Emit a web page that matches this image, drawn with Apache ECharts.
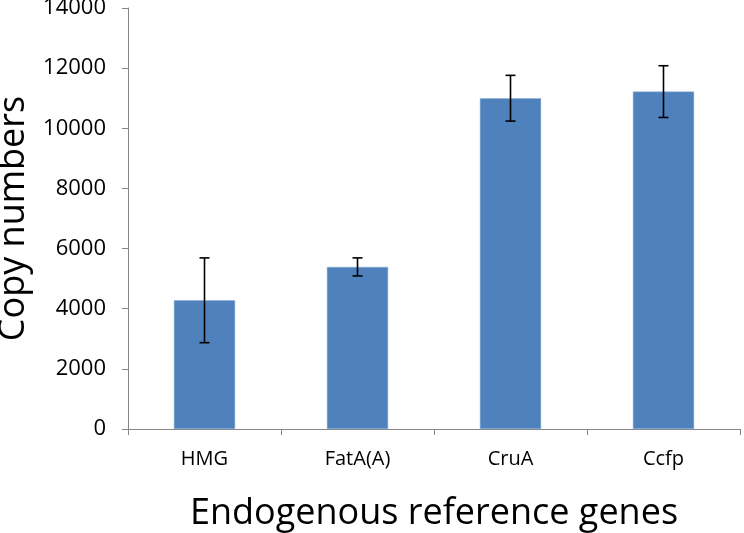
<!DOCTYPE html>
<html><head><meta charset="utf-8">
<script src="https://cdn.jsdelivr.net/npm/echarts@6/dist/echarts.min.js"></script>
<style>html,body{margin:0;padding:0;background:#fff}#c{width:744px;height:533px}</style>
</head><body><div id="c"></div>
<script>
const categories = ["HMG", "FatA(A)", "CruA", "Ccfp"];
const copyNumbers = [4280, 5390, 11000, 11220];
const errors = [1410, 300, 760, 860];
const yTicks = [0, 2000, 4000, 6000, 8000, 10000, 12000, 14000];

const FONT = 'Open Sans';
const chart = echarts.init(document.getElementById('c'));
const errData = categories.map((c, i) => [i, copyNumbers[i] - errors[i], copyNumbers[i] + errors[i]]);
chart.setOption({
  animation: false,
  grid: { left: 128, right: 4, top: 8, bottom: 104, outerBoundsMode: 'none', containLabel: false },
  xAxis: {
    type: 'category', data: categories,
    name: 'Endogenous reference genes', nameLocation: 'middle', nameGap: 67,
    nameTextStyle: { fontFamily: FONT, fontSize: 36, color: '#000' },
    axisLine: { lineStyle: { color: '#868686', width: 1 } },
    axisTick: { show: true, alignWithLabel: false, length: 6, lineStyle: { color: '#868686' } },
    axisLabel: { fontFamily: FONT, fontSize: 20, color: '#000', margin: 20 }
  },
  yAxis: {
    type: 'value', min: yTicks[0], max: yTicks[yTicks.length - 1], interval: 2000,
    name: 'Copy numbers', nameLocation: 'middle', nameGap: 89, nameRotate: 90,
    nameTextStyle: { fontFamily: FONT, fontSize: 36, color: '#000' },
    axisLine: { show: true, lineStyle: { color: '#868686', width: 1 } },
    axisTick: { show: true, length: 6, lineStyle: { color: '#868686' } },
    splitLine: { show: false },
    axisLabel: { fontFamily: FONT, fontSize: 22, color: '#000', margin: 22, formatter: v => String(v) }
  },
  series: [
    {
      type: 'bar', data: copyNumbers, barCategoryGap: '60%',
      itemStyle: { color: '#4F81BD', borderColor: '#8CAEDB', borderWidth: 0.5 }
    },
    {
      type: 'custom', data: errData, z: 10,
      renderItem: function (params, api) {
        const x = api.value(0);
        const lo = api.coord([x, api.value(1)]);
        const hi = api.coord([x, api.value(2)]);
        const hw = 5;
        const style = { stroke: '#000', lineWidth: 1.6 };
        return {
          type: 'group', children: [
            { type: 'line', shape: { x1: lo[0], y1: lo[1], x2: hi[0], y2: hi[1] }, style: style },
            { type: 'line', shape: { x1: lo[0] - hw, y1: lo[1], x2: lo[0] + hw, y2: lo[1] }, style: style },
            { type: 'line', shape: { x1: hi[0] - hw, y1: hi[1], x2: hi[0] + hw, y2: hi[1] }, style: style }
          ]
        };
      }
    }
  ]
});
</script></body></html>
